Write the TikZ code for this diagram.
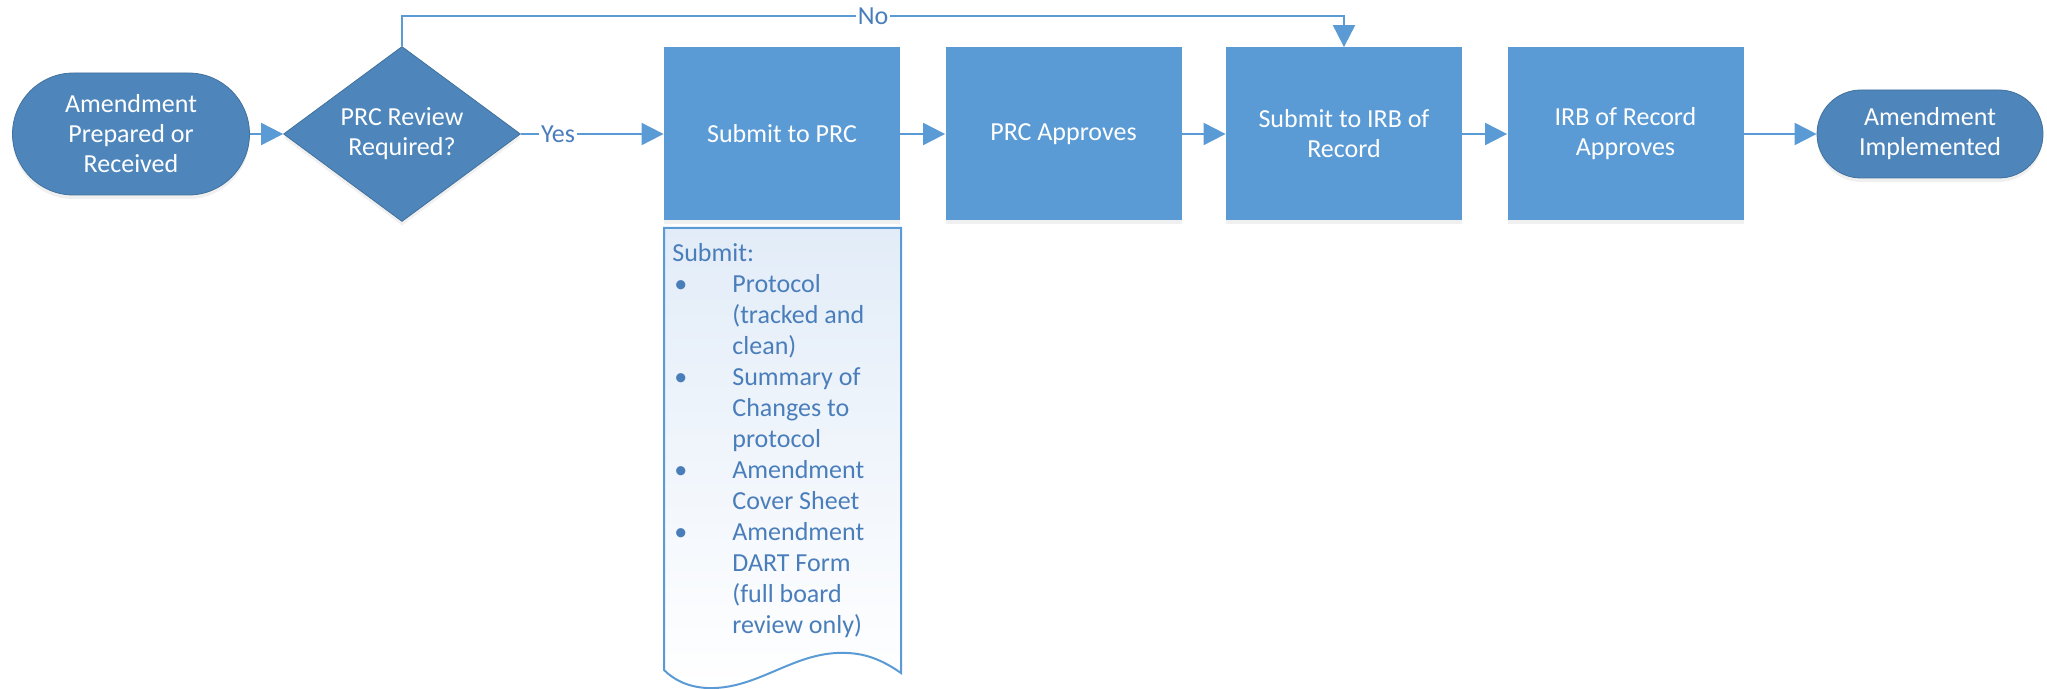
\documentclass[tikz,border=0pt]{standalone}
\usepackage{fontspec}
\setmainfont{Carlito}
\usepackage{tikz}
\usepackage{xcolor}
\usetikzlibrary{arrows.meta, positioning, shapes.geometric, shapes.misc, shadows}

\definecolor{boxblue}{HTML}{5B9BD5}
\definecolor{termblue}{HTML}{4E86BC}
\definecolor{termedge}{HTML}{41719C}
\definecolor{doctext}{HTML}{4A7EBB}
\definecolor{docfill}{HTML}{E2ECF8}

\begin{document}
\begin{tikzpicture}[x=0.5pt, y=-0.5pt,
    every node/.style={font=\fontsize{13}{15}\selectfont},
    shadowed/.style={drop shadow={shadow xshift=0pt, shadow yshift=-2pt, opacity=0.12, fill=gray}},
    terminal/.style={rounded rectangle, draw=termedge, fill=termblue, text=white, align=center,
        inner sep=0pt, minimum width=118.5pt, minimum height=61pt, shadowed},
    decision/.style={diamond, draw=termedge, fill=termblue, text=white, align=center,
        inner sep=0pt, aspect=1.35, minimum width=118.5pt, minimum height=87.5pt, shadowed},
    process/.style={rectangle, fill=boxblue, text=white, align=center,
        inner sep=0pt, minimum width=118pt, minimum height=86.5pt, shadowed},
    flow/.style={draw=boxblue, line width=1pt, -{Triangle[length=11pt, width=11pt]}},
    edgelabel/.style={fill=white, text=doctext, inner sep=1pt}]

        \useasboundingbox (0,0) rectangle (2047,689);

        \node[terminal] (start) at (131,134) {Amendment\\Prepared or\\Received};
        \node[decision] (prc) at (402,134) {PRC Review\\Required?};
        \node[process] (subprc) at (782,134) {Submit to PRC};
        \node[process] (prcok) at (1063.5,134) {PRC Approves};
        \node[process] (subirb) at (1344,134) {Submit to IRB of\\Record};
        \node[process] (irbok) at (1625.5,134) {IRB of Record\\Approves};
        \node[terminal, minimum width=113pt, minimum height=44pt] (done) at (1930,134) {Amendment\\Implemented};

        \foreach \from/\to in
        {start/prc,subprc/prcok,prcok/subirb,subirb/irbok,irbok/done} \draw [flow] (\from.east)--(\to.west);
        \draw [flow] (prc.east) -- node[edgelabel, pos=0.26] {Yes} (subprc.west);
        \draw [flow] (prc.north) -- ++(0,-30) -| node[edgelabel, pos=0.25] {No} (subirb.north);

        % document with the list below Submit to PRC
        \draw [draw=boxblue, line width=1pt, top color=docfill, bottom color=white]
            (664,228) -- (901,228) -- (901,673)
            .. controls (878,657) and (860,652) .. (837,653)
            .. controls (790,655) and (755,690) .. (707,688)
            .. controls (688,687) and (674,680) .. (664,670) -- cycle;
        \node[anchor=north west, text=doctext, inner sep=0pt, font=\fontsize{13}{15.5}\selectfont] (checklist) at (672,239)
            {\begin{tabular}{@{}p{30pt}@{}l@{}}
             \multicolumn{2}{@{}l@{}}{Submit:}\\
             \hspace{1pt}\textbullet & Protocol\\
             & (tracked and\\
             & clean)\\
             \hspace{1pt}\textbullet & Summary of\\
             & Changes to\\
             & protocol\\
             \hspace{1pt}\textbullet & Amendment\\
             & Cover Sheet\\
             \hspace{1pt}\textbullet & Amendment\\
             & DART Form\\
             & (full board\\
             & review only)
             \end{tabular}};
\end{tikzpicture}
\end{document}
